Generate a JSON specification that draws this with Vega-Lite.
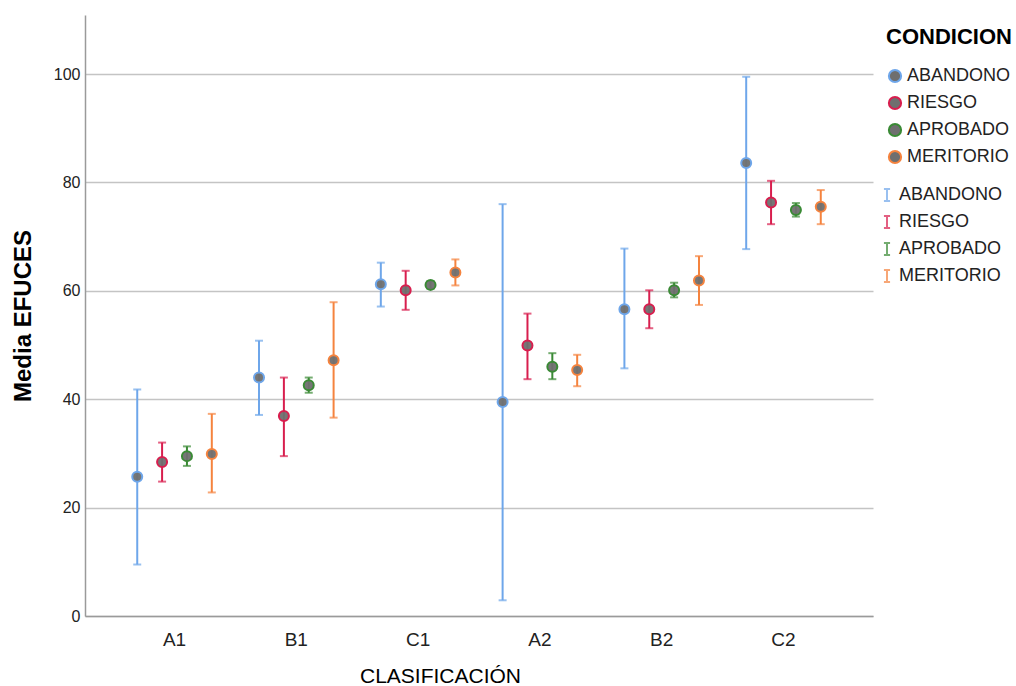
{
  "$schema": "https://vega.github.io/schema/vega-lite/v6.json",
  "width": 788,
  "height": 601,
  "autosize": {"type": "none"},
  "padding": {"left": 85, "top": 15, "right": 143, "bottom": 70},
  "background": "white",
  "config": {
    "font": "Liberation Sans",
    "view": {"stroke": null},
    "axis": {"labelFont": "Liberation Sans", "titleFont": "Liberation Sans", "labelColor": "#222", "titleColor": "#000", "domainColor": "#9a9a9a", "domainWidth": 1.5, "ticks": false},
    "legend": {"labelFont": "Liberation Sans", "titleFont": "Liberation Sans", "labelColor": "#222"}
  },
  "data": {
    "values": [
      {"g": "A1", "c": "ABANDONO", "mean": 25.7, "lo": 9.5, "hi": 41.8},
      {"g": "A1", "c": "RIESGO", "mean": 28.4, "lo": 24.8, "hi": 32.0},
      {"g": "A1", "c": "APROBADO", "mean": 29.5, "lo": 27.7, "hi": 31.3},
      {"g": "A1", "c": "MERITORIO", "mean": 29.9, "lo": 22.8, "hi": 37.3},
      {"g": "B1", "c": "ABANDONO", "mean": 44.0, "lo": 37.1, "hi": 50.8},
      {"g": "B1", "c": "RIESGO", "mean": 36.9, "lo": 29.5, "hi": 44.0},
      {"g": "B1", "c": "APROBADO", "mean": 42.6, "lo": 41.2, "hi": 44.0},
      {"g": "B1", "c": "MERITORIO", "mean": 47.2, "lo": 36.6, "hi": 57.9},
      {"g": "C1", "c": "ABANDONO", "mean": 61.2, "lo": 57.1, "hi": 65.2},
      {"g": "C1", "c": "RIESGO", "mean": 60.1, "lo": 56.5, "hi": 63.7},
      {"g": "C1", "c": "APROBADO", "mean": 61.1, "lo": 60.4, "hi": 61.8},
      {"g": "C1", "c": "MERITORIO", "mean": 63.4, "lo": 61.0, "hi": 65.8},
      {"g": "A2", "c": "ABANDONO", "mean": 39.5, "lo": 2.9, "hi": 76.0},
      {"g": "A2", "c": "RIESGO", "mean": 49.9, "lo": 43.7, "hi": 55.8},
      {"g": "A2", "c": "APROBADO", "mean": 46.0, "lo": 43.7, "hi": 48.5},
      {"g": "A2", "c": "MERITORIO", "mean": 45.4, "lo": 42.4, "hi": 48.2},
      {"g": "B2", "c": "ABANDONO", "mean": 56.6, "lo": 45.7, "hi": 67.8},
      {"g": "B2", "c": "RIESGO", "mean": 56.6, "lo": 53.1, "hi": 60.1},
      {"g": "B2", "c": "APROBADO", "mean": 60.1, "lo": 58.8, "hi": 61.5},
      {"g": "B2", "c": "MERITORIO", "mean": 61.9, "lo": 57.4, "hi": 66.4},
      {"g": "C2", "c": "ABANDONO", "mean": 83.6, "lo": 67.7, "hi": 99.5},
      {"g": "C2", "c": "RIESGO", "mean": 76.3, "lo": 72.3, "hi": 80.3},
      {"g": "C2", "c": "APROBADO", "mean": 74.9, "lo": 73.7, "hi": 76.2},
      {"g": "C2", "c": "MERITORIO", "mean": 75.5, "lo": 72.3, "hi": 78.6}
    ]
  },
  "encoding": {
    "x": {
      "field": "g", "type": "nominal",
      "sort": ["A1", "B1", "C1", "A2", "B2", "C2"],
      "scale": {"paddingInner": 0, "paddingOuter": 0.235},
      "axis": {"title": "CLASIFICACIÓN", "labelAngle": 0, "labelFontSize": 19, "labelPadding": 14, "titleFontSize": 21, "titleFontWeight": "normal", "titlePadding": 16, "titleX": 355, "grid": false}
    },
    "xOffset": {
      "field": "c", "type": "nominal",
      "sort": ["ABANDONO", "RIESGO", "APROBADO", "MERITORIO"],
      "scale": {"paddingInner": 0, "paddingOuter": 0.45}
    }
  },
  "layer": [
    {
      "mark": {"type": "rule", "strokeWidth": 2},
      "encoding": {
        "y": {"field": "lo", "type": "quantitative"},
        "y2": {"field": "hi"},
        "color": {
          "field": "c", "type": "nominal",
          "sort": ["ABANDONO", "RIESGO", "APROBADO", "MERITORIO"],
          "scale": {"range": ["#6ea6ea", "#d81e4e", "#3a8a35", "#f5833e"]},
          "legend": {
            "title": null, "orient": "none", "legendX": 793, "legendY": 171,
            "symbolType": "M-0.5,-1H0.5M0,-1V1M-0.5,1H0.5",
            "symbolSize": 150, "symbolStrokeWidth": 2, "symbolFillColor": "transparent", "symbolOpacity": 1,
            "labelFontSize": 18, "labelOffset": 3, "rowPadding": 5
          }
        }
      }
    },
    {
      "mark": {"type": "tick", "size": 8, "thickness": 2},
      "encoding": {
        "y": {"field": "lo", "type": "quantitative"},
        "color": {"field": "c", "type": "nominal", "sort": ["ABANDONO", "RIESGO", "APROBADO", "MERITORIO"]}
      }
    },
    {
      "mark": {"type": "tick", "size": 8, "thickness": 2},
      "encoding": {
        "y": {"field": "hi", "type": "quantitative"},
        "color": {"field": "c", "type": "nominal", "sort": ["ABANDONO", "RIESGO", "APROBADO", "MERITORIO"]}
      }
    },
    {
      "mark": {"type": "point", "filled": true, "fill": "#6f6f6f", "fillOpacity": 0.95, "size": 100, "strokeWidth": 2, "opacity": 1},
      "encoding": {
        "y": {
          "field": "mean", "type": "quantitative",
          "scale": {"domain": [0, 110.9], "nice": false, "zero": true},
          "axis": {"title": "Media EFUCES", "values": [0, 20, 40, 60, 80, 100], "labelFontSize": 16, "labelPadding": 5, "titleFontSize": 24, "titleFontWeight": "bold", "titlePadding": 18, "grid": true, "gridColor": "#c4c4c4", "gridWidth": 1.5}
        },
        "stroke": {
          "field": "c", "type": "nominal",
          "scale": {"domain": ["ABANDONO", "RIESGO", "APROBADO", "MERITORIO"], "range": ["#6ea6ea", "#d81e4e", "#3a8a35", "#f5833e"]},
          "legend": {
            "title": "CONDICION", "orient": "none", "legendX": 801, "legendY": 12,
            "titleFontSize": 22, "titleFontWeight": "bold", "titleColor": "#000", "titlePadding": 18,
            "symbolType": "circle", "symbolSize": 150, "symbolStrokeWidth": 2, "symbolFillColor": "#6f6f6f",
            "labelFontSize": 18, "labelOffset": 3, "rowPadding": 5
          }
        }
      }
    }
  ]
}
